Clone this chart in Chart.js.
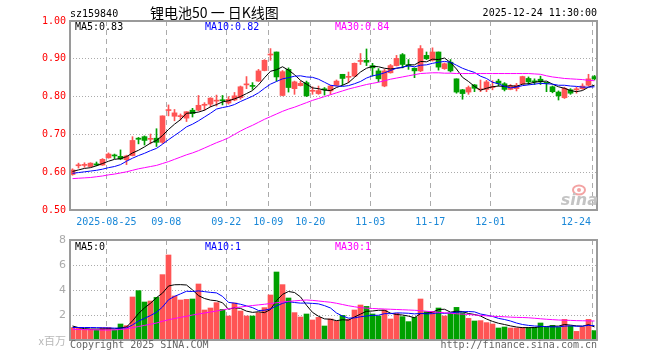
<!DOCTYPE html>
<html><head><meta charset="utf-8">
<script src="https://cdn.jsdelivr.net/npm/chart.js@4.4.1/dist/chart.umd.min.js"></script>
<style>
html,body{margin:0;padding:0;background:#fff}
#wrap{position:relative;width:660px;height:360px}
#wrap canvas{position:absolute;left:0;top:0}
</style></head><body>
<div id="wrap"><canvas id="k" width="660" height="360"></canvas><canvas id="v" width="660" height="360"></canvas></div>
<script>
// ====== DATA ======
const dates = ['08-15','08-18','08-19','08-20','08-21','08-22','08-25','08-26','08-27','08-28','08-29',
  '09-01','09-02','09-03','09-04','09-05','09-08','09-09','09-10','09-11','09-12','09-15','09-16','09-17','09-18','09-19',
  '09-22','09-23','09-24','09-25','09-26','09-29','09-30','10-09','10-10','10-13','10-14','10-15','10-16','10-17',
  '10-20','10-21','10-22','10-23','10-24','10-27','10-28','10-29','10-30','10-31','11-03','11-04','11-05','11-06','11-07',
  '11-10','11-11','11-12','11-13','11-14','11-17','11-18','11-19','11-20','11-21','11-24','11-25','11-26','11-27','11-28',
  '12-01','12-02','12-03','12-04','12-05','12-08','12-09','12-10','12-11','12-12','12-15','12-16','12-17','12-18','12-19',
  '12-22','12-23','12-24'];
const tickDates  = ['08-25','09-08','09-22','10-09','10-20','11-03','11-17','12-01','12-24'];
const tickLabels = ['2025-08-25','09-08','09-22','10-09','10-20','11-03','11-17','12-01','12-24'];
const priceTicks = [0.5,0.6,0.7,0.8,0.9,1.0];
const volTicks = [0,2,4,6,8];

const openP = [.594,.617,.618,.615,.622,.619,.638,.644,.642,.633,.644,.690,.694,.687,.690,.679,.763,.748,.747,.743,
  .764,.764,.777,.780,.788,.790,.783,.791,.797,.831,.829,.841,.869,.910,.918,.803,.872,.821,.829,.837,
  .814,.808,.819,.815,.830,.859,.851,.854,.893,.896,.882,.868,.828,.863,.882,.911,.883,.875,.868,.909,
  .896,.918,.874,.891,.847,.818,.812,.831,.818,.819,.824,.841,.834,.819,.821,.834,.848,.840,.846,.837,
  .826,.812,.797,.818,.818,.821,.830,.853];
const highP = [.609,.624,.625,.625,.627,.636,.651,.648,.659,.645,.694,.692,.696,.701,.715,.749,.778,.766,.754,.760,
  .769,.803,.784,.797,.804,.803,.800,.811,.828,.853,.837,.872,.898,.927,.918,.869,.876,.841,.841,.841,
  .826,.828,.824,.830,.844,.859,.865,.889,.914,.926,.888,.874,.872,.885,.909,.914,.898,.876,.935,.918,
  .929,.918,.889,.898,.847,.819,.828,.832,.844,.843,.842,.846,.837,.832,.835,.854,.852,.847,.854,.838,
  .828,.815,.825,.821,.825,.834,.859,.856];
const lowP = [.592,.611,.613,.614,.617,.618,.637,.636,.633,.620,.643,.675,.672,.675,.668,.676,.749,.736,.738,.734,
  .746,.762,.764,.773,.775,.778,.780,.789,.793,.821,.819,.840,.868,.896,.841,.802,.812,.806,.828,.800,
  .806,.806,.804,.806,.828,.830,.837,.853,.885,.882,.854,.839,.826,.862,.881,.876,.872,.850,.866,.898,
  .894,.870,.872,.865,.809,.793,.806,.813,.813,.813,.818,.828,.815,.818,.815,.832,.832,.832,.832,.813,
  .810,.791,.795,.806,.809,.819,.828,.844];
const closeP = [.606,.618,.619,.624,.619,.634,.648,.643,.635,.643,.684,.687,.684,.688,.679,.749,.764,.757,.748,.760,
  .755,.777,.778,.796,.789,.789,.793,.802,.826,.832,.827,.868,.896,.911,.852,.866,.824,.839,.835,.802,
  .815,.816,.818,.828,.841,.848,.852,.888,.894,.891,.876,.847,.868,.882,.901,.885,.882,.868,.927,.900,
  .918,.878,.887,.868,.812,.808,.824,.822,.819,.839,.825,.835,.819,.828,.830,.853,.839,.839,.839,.835,
  .813,.802,.822,.809,.819,.828,.847,.847];

const ma5 = [.602,.606,.610,.612,.617,.623,.629,.634,.636,.641,.651,.658,.667,.677,.684,.697,.713,.727,.739,.756,
  .757,.759,.764,.773,.779,.786,.789,.794,.800,.808,.816,.831,.850,.867,.871,.879,.870,.858,.843,.833,
  .823,.821,.817,.816,.824,.830,.837,.851,.865,.875,.880,.879,.875,.873,.875,.877,.884,.884,.893,.892,
  .899,.898,.902,.890,.873,.851,.840,.827,.817,.822,.826,.828,.827,.829,.827,.833,.834,.838,.840,.841,
  .833,.826,.822,.816,.813,.816,.825,.830];
const ma10 = [.597,.599,.601,.603,.605,.608,.612,.615,.620,.629,.637,.644,.650,.657,.663,.674,.686,.697,.708,.720,
  .727,.736,.746,.756,.767,.771,.774,.779,.787,.794,.801,.810,.822,.833,.840,.847,.850,.854,.855,.852,
  .851,.846,.838,.830,.828,.827,.829,.834,.840,.849,.855,.858,.863,.869,.875,.878,.881,.879,.883,.884,
  .888,.891,.893,.891,.883,.875,.869,.864,.854,.848,.838,.834,.827,.823,.825,.829,.831,.833,.835,.834,
  .833,.830,.830,.828,.827,.825,.825,.826];
const ma30 = [.583,.584,.585,.586,.588,.590,.593,.595,.598,.601,.605,.609,.612,.615,.618,.623,.628,.634,.640,.646,
  .651,.657,.664,.671,.678,.684,.691,.700,.709,.717,.724,.732,.740,.747,.754,.761,.767,.772,.778,.784,
  .790,.795,.800,.805,.810,.815,.820,.824,.828,.832,.835,.838,.842,.846,.849,.852,.855,.858,.861,.862,
  .863,.863,.862,.862,.861,.861,.861,.861,.861,.861,.861,.861,.861,.861,.861,.861,.861,.860,.859,.855,
  .852,.850,.848,.847,.846,.845,.843,.842];

const vol = [.99,.93,.85,.85,.80,.99,1.0,.80,1.28,1.15,3.44,3.95,3.04,3.12,3.41,5.23,6.8,3.52,3.2,3.25,
  3.28,4.48,2.4,2.56,2.99,2.45,1.92,2.96,2.32,1.92,1.92,2.19,2.59,3.6,5.44,4.43,3.36,2.19,1.84,2.08,
  1.6,1.81,1.12,1.68,1.52,1.97,1.65,2.4,2.8,2.69,2.08,1.92,2.4,1.68,2.13,1.87,1.47,1.81,3.28,2.27,
  2.29,2.56,1.92,2.13,2.61,2.19,1.73,1.52,1.55,1.39,1.28,.96,1.04,.96,.96,1.01,.99,1.01,1.36,1.01,
  1.17,1.01,1.65,1.12,.69,1.04,1.65,.75];
const volMa5 = [1.12,.99,.91,.88,.88,.88,.90,.89,.97,1.04,1.53,2.12,2.57,2.94,3.39,3.75,4.32,4.42,4.43,4.40,
  4.01,3.55,3.32,3.19,3.14,2.98,2.46,2.58,2.53,2.31,2.21,2.26,2.19,2.44,3.15,3.65,3.88,3.80,3.45,2.78,
  2.21,1.90,1.69,1.66,1.55,1.62,1.59,1.84,2.07,2.30,2.32,2.38,2.38,2.15,2.04,2.00,1.91,1.79,2.11,2.14,
  2.22,2.44,2.46,2.23,2.30,2.28,2.12,2.04,1.92,1.68,1.49,1.34,1.24,1.13,1.04,.99,.99,.99,1.07,1.08,
  1.11,1.11,1.24,1.19,1.13,1.10,1.23,1.05];
const volMa10 = [1.0,1.0,1.0,1.0,.99,.98,.97,.95,.95,.96,1.21,1.51,1.73,1.96,2.22,2.64,3.22,3.49,3.69,3.90,
  3.88,3.93,3.87,3.81,3.77,3.49,3.01,2.95,2.86,2.73,2.59,2.36,2.38,2.49,2.73,2.93,3.07,3.00,2.95,2.96,
  2.93,2.89,2.75,2.56,2.16,1.92,1.75,1.77,1.86,1.92,1.97,1.98,2.11,2.11,2.17,2.16,2.14,2.09,2.13,2.09,
  2.11,2.18,2.13,2.17,2.22,2.25,2.28,2.25,2.08,1.99,1.89,1.73,1.64,1.52,1.36,1.24,1.17,1.12,1.10,1.06,
  1.05,1.05,1.11,1.13,1.10,1.11,1.17,1.15];
const volMa30 = [.85,.84,.83,.82,.81,.80,.80,.81,.84,.90,.98,1.08,1.17,1.26,1.36,1.50,1.62,1.72,1.81,1.90,
  2.00,2.08,2.16,2.24,2.32,2.40,2.50,2.58,2.64,2.70,2.76,2.81,2.86,2.92,2.98,3.04,3.09,3.13,3.17,3.20,
  3.17,3.12,3.07,3.02,2.94,2.84,2.74,2.66,2.59,2.55,2.52,2.50,2.48,2.46,2.44,2.42,2.40,2.38,2.35,2.30,
  2.26,2.22,2.18,2.14,2.10,2.07,2.04,2.00,1.97,1.93,1.90,1.88,1.86,1.83,1.81,1.80,1.78,1.74,1.70,1.66,
  1.63,1.60,1.58,1.57,1.55,1.54,1.53,1.52];

// ====== STYLE ======
const RED = '#ff5454', GREEN = '#00a000';
const C5 = '#000000', C10 = '#0000ff', C30 = '#ff00ff';
const GRIDC = '#ababab', BOXC = '#9a9a9a';
const MONO = '10px "DejaVu Sans Mono", monospace';
const GRID_SHIFT = -0.36;   // sina puts the date line just left of the candle
const X_MIN = -0.4167, X_MAX = 87.4167;

const candleColor = closeP.map((c,i)=> c>=openP[i] ? RED : GREEN);
const tickIdx = tickDates.map(d=>dates.indexOf(d));
const pts = arr => arr.map((v,i)=>({x:i, y:v}));

function xAxis(){
  return { type:'linear', min:X_MIN, max:X_MAX, offset:false,
    afterBuildTicks: s => { s.ticks = tickIdx.map(i=>({value:i+GRID_SHIFT})); },
    afterFit: s => { s.height = 0; },
    ticks:{display:false}, grid:{color:GRIDC, drawTicks:false, offset:false}, border:{display:false, dash:[5,4]} };
}
function maLine(arr, color){
  return { type:'line', data:pts(arr), borderColor:color, borderWidth:1, pointRadius:0, tension:0, order:0 };
}
function text(ctx, s, x, y, color, font, align){
  ctx.save(); ctx.font = font; ctx.fillStyle = color; ctx.textAlign = align||'left'; ctx.textBaseline = 'alphabetic';
  ctx.fillText(s, x, y); ctx.restore();
}
function box(chart){
  const a = chart.chartArea, ctx = chart.ctx;
  ctx.save(); ctx.strokeStyle = BOXC; ctx.lineWidth = 2;
  ctx.strokeRect(a.left, a.top, a.right-a.left, a.bottom-a.top); ctx.restore();
}

// ====== K-LINE ======
const kDecor = { id:'kDecor', afterDraw(chart){
  const ctx = chart.ctx, a = chart.chartArea, xs = chart.scales.x;
  box(chart);
  text(ctx, 'sz159840', 70, 17, '#000', MONO);
  text(ctx, '锂电池50 一 日K线图', 150, 18, '#000', '14px "Noto Sans CJK SC", sans-serif');
  text(ctx, '2025-12-24 11:30:00', a.right, 16, '#000', MONO, 'right');
  text(ctx, 'MA5:0.83', 75, 30, C5, MONO);
  text(ctx, 'MA10:0.82', 205, 30, C10, MONO);
  text(ctx, 'MA30:0.84', 335, 30, C30, MONO);
  ctx.save(); ctx.font = MONO;
  tickLabels.forEach((t,k)=>{
    let x = xs.getPixelForValue(tickIdx[k]+GRID_SHIFT);
    const w = ctx.measureText(t).width;
    x = Math.min(x, a.right - 6 - w/2);
    text(ctx, t, x, 225, '#1a88d8', MONO, 'center');
  });
  ctx.restore();
  // sina watermark
  ctx.save();
  ctx.strokeStyle = '#f3a3a3'; ctx.lineWidth = 2;
  ctx.beginPath(); ctx.ellipse(579, 190, 6, 4.5, 0, 0, Math.PI*2); ctx.stroke();
  ctx.fillStyle = '#f3a3a3'; ctx.beginPath(); ctx.arc(579, 190, 2, 0, Math.PI*2); ctx.fill();
  ctx.restore();
  text(ctx, 'sina', 598, 205, '#c4c4c4', 'italic bold 16px "DejaVu Sans", sans-serif', 'right');
}};

new Chart(document.getElementById('k'), {
  data:{ datasets:[
    { type:'bar', data:dates.map((d,i)=>({x:i, y:[lowP[i], highP[i]]})), backgroundColor:candleColor, barThickness:1, grouped:false, order:3 },
    { type:'bar', data:dates.map((d,i)=>({x:i, y:[openP[i], closeP[i]]})), backgroundColor:candleColor, barThickness:5, minBarLength:1, grouped:false, order:2 },
    maLine(ma30, C30), maLine(ma10, C10), maLine(ma5, C5)
  ]},
  options:{ responsive:false, animation:false, devicePixelRatio:1,
    layout:{padding:{left:0, right:63, top:21, bottom:150}},
    plugins:{legend:{display:false}, tooltip:{enabled:false}},
    scales:{
      x: xAxis(),
      y: { min:0.5, max:1.0, afterFit:s=>{ s.width = 70; },
        afterBuildTicks: s => { s.ticks = priceTicks.map(v=>({value:v})); },
        ticks:{color:'#ff0000', font:{family:'"DejaVu Sans Mono"', size:10}, padding:4, callback:v=>v.toFixed(2)},
        grid:{color:GRIDC, drawTicks:false}, border:{display:false, dash:[1,2]} }
    }
  },
  plugins:[kDecor]
});

// ====== VOLUME ======
const vDecor = { id:'vDecor', afterDraw(chart){
  const ctx = chart.ctx, a = chart.chartArea;
  box(chart);
  text(ctx, 'MA5:0', 75, 250, C5, MONO);
  text(ctx, 'MA10:1', 205, 250, C10, MONO);
  text(ctx, 'MA30:1', 335, 250, C30, MONO);
  text(ctx, 'x百万', 66, 345, '#b8b8b8', '11px "Noto Sans CJK SC", sans-serif', 'right');
  text(ctx, 'Copyright 2025 SINA.COM', 70, 348, '#666', MONO);
  text(ctx, 'http://finance.sina.com.cn', a.right, 348, '#666', MONO, 'right');
}};

new Chart(document.getElementById('v'), {
  data:{ datasets:[
    { type:'bar', data:pts(vol), backgroundColor:candleColor, barThickness:5, grouped:false, order:2 },
    maLine(volMa30, C30), maLine(volMa10, C10), maLine(volMa5, C5)
  ]},
  options:{ responsive:false, animation:false, devicePixelRatio:1,
    layout:{padding:{left:0, right:63, top:240, bottom:20}},
    plugins:{legend:{display:false}, tooltip:{enabled:false}},
    scales:{
      x: xAxis(),
      y: { min:0, max:8, afterFit:s=>{ s.width = 70; },
        afterBuildTicks: s => { s.ticks = volTicks.map(v=>({value:v})); },
        ticks:{color:'#aaaaaa', font:{family:'"DejaVu Sans"', size:11}, padding:4, callback:v=> v===0 ? '' : String(v)},
        grid:{color:GRIDC, drawTicks:false}, border:{display:false, dash:[1,2]} }
    }
  },
  plugins:[vDecor]
});
</script>
</body></html>
